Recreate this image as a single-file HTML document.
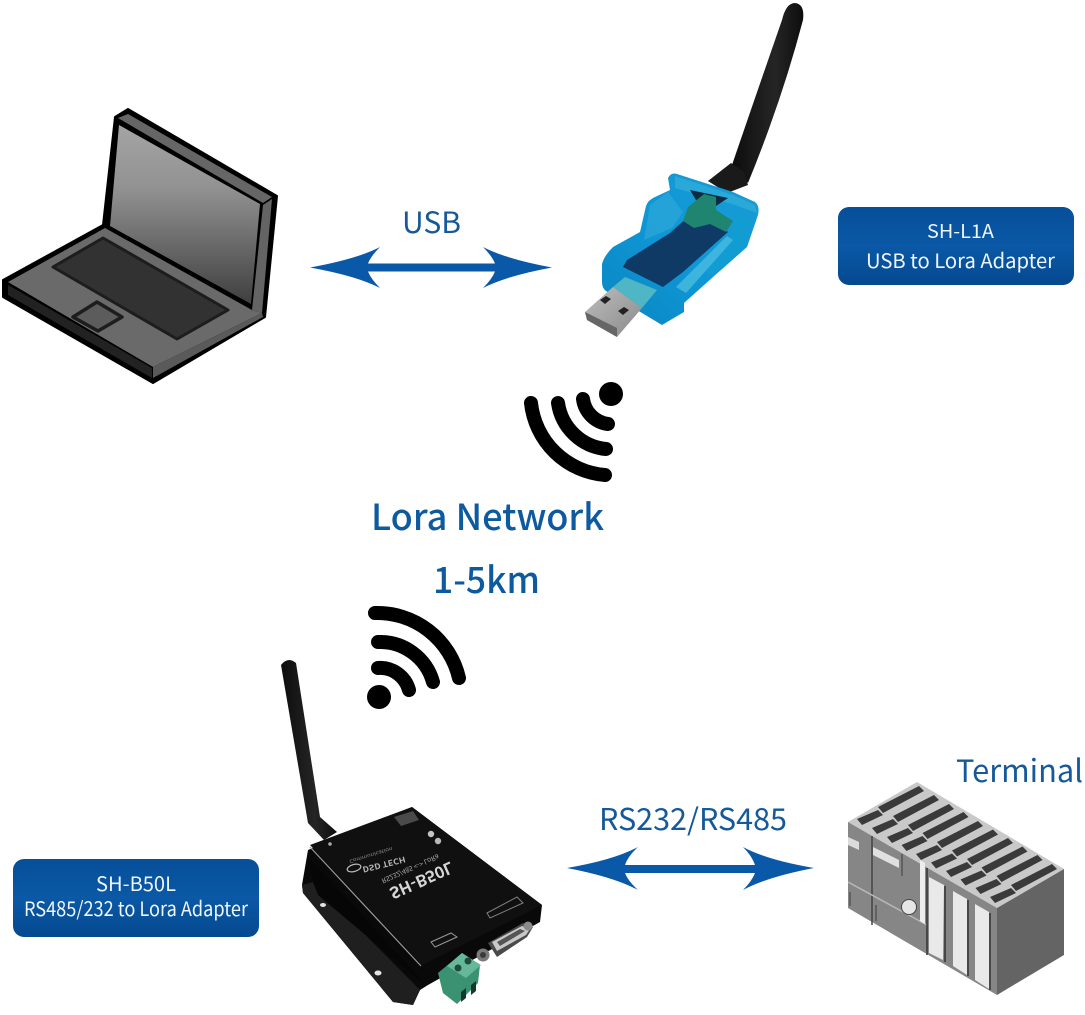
<!DOCTYPE html>
<html lang="en">
<head>
<meta charset="utf-8">
<title>Lora Network Diagram</title>
<style>
html,body{margin:0;padding:0;background:#fff;}
svg{display:block;font-family:"Noto Sans CJK SC","Liberation Sans",sans-serif;}
</style>
</head>
<body>
<svg xmlns="http://www.w3.org/2000/svg" width="1085" height="1015" viewBox="0 0 1085 1015">
<defs>
<linearGradient id="scr" x1="0" y1="0" x2="0" y2="1"><stop offset="0" stop-color="#a4a4a4"/><stop offset="0.35" stop-color="#929292"/><stop offset="1" stop-color="#3f3f3f"/></linearGradient>
<linearGradient id="box" x1="0" y1="0" x2="0" y2="1"><stop offset="0" stop-color="#064f99"/><stop offset="0.5" stop-color="#0a58a6"/><stop offset="1" stop-color="#05498f"/></linearGradient>
<linearGradient id="blue" x1="0" y1="1" x2="1" y2="0"><stop offset="0" stop-color="#0a86c2"/><stop offset="0.5" stop-color="#0f97d6"/><stop offset="1" stop-color="#1a9cd4"/></linearGradient>
<linearGradient id="ant" x1="0" y1="0" x2="1" y2="0"><stop offset="0" stop-color="#0d0d0d"/><stop offset="0.6" stop-color="#252525"/><stop offset="1" stop-color="#0d0d0d"/></linearGradient>
<linearGradient id="metal" x1="0" y1="0" x2="1" y2="1"><stop offset="0" stop-color="#bdbdbd"/><stop offset="1" stop-color="#8a8a8a"/></linearGradient>
</defs>

<!-- Laptop -->
<polygon points="3,280 103,225 115,117 128,109 277,196 265,317 153,383 3,297" fill="#000" stroke="#000" stroke-width="2" stroke-linejoin="round"/>
<polygon points="118,118 128,114 272,197 263,203" fill="#666"/>
<polygon points="263,205 272,199 262,313 252,310" fill="#646464"/>
<polygon points="119,125 260,204 251,304 110,226" fill="url(#scr)"/>
<polygon points="8,282 105,228 252,310 262,313 153,367" fill="#6a6a6a"/>
<polygon points="153,367 262,313 263,317 153,378" fill="#5a5a5a"/>
<polygon points="8,285 152,368 152,378 8,295" fill="#222"/>
<polygon points="53,267 103,238 228,310 177,339" fill="#323232" stroke="#1d1d1d" stroke-width="3" stroke-linejoin="round"/>
<polygon points="73,317 97,302 122,317 98,331" fill="#5c5c5c" stroke="#1d1d1d" stroke-width="3.5" stroke-linejoin="round"/>

<!-- USB adapter -->
<path d="M782,20 Q786,3 795,3 Q805,4 803,20 Q782,100 748,183 L732,165 Q757,92 782,20 Z" fill="url(#ant)"/>
<path d="M708,181 L731,163 L744,172 L748,185 L727,193 Z" fill="#1a1a1a"/>
<path d="M668,178 Q671,172 677,174 L733,192 L755,202 Q760,206 758,215 L747,247 L713,277 L684,303 L684,312 L662,325 L642,313 L606,291 Q602,288 602,282 L602,264 Q604,256 613,247 L640,232 L646,206 Q648,200 655,197 L670,190 Z" fill="url(#blue)"/>
<polygon points="675,176 733,195 755,205 757,213 735,205 675,188" fill="#2aa8d8"/>
<polygon points="650,205 668,192 683,212 672,228 644,240" fill="#28a4d8" opacity="0.85"/>
<polygon points="690,215 670,233 627,260 623,267 663,287 683,272 728,232 712,218" fill="#103a66"/>
<polygon points="690,190 728,198 716,206 696,200" fill="#0d2b3f"/>
<path d="M683,221 L688,207 L704,194 L716,197 L716,210 L733,221 L726,232 L710,224 L694,228 Z" fill="#1f8571"/>
<polygon points="736,215 752,218 744,248 712,276 704,270 728,245" fill="#129dd2"/>
<polygon points="676,287 727,236 733,240 686,293" fill="#49bde0" opacity="0.8"/>
<polygon points="613,287 625,277 657,290 642,308" fill="#4fb6c6"/>
<polygon points="585,312 613,287 642,308 617,337 587,320" fill="url(#metal)"/>
<polygon points="585,312 617,328 617,337 587,320" fill="#666"/>
<polygon points="600,300 606,296 611,299 605,304" fill="#222"/>
<polygon points="618,311 624,307 629,310 623,315" fill="#222"/>

<!-- Arrows -->
<path d="M310,267.5 Q357,259 380,247 Q371,256 368,263.5 L495,263.5 Q492,256 483,247 Q506,259 552,267.5 Q506,276 483,288 Q492,279 495,271.5 L368,271.5 Q371,279 380,288 Q357,276 310,267.5 Z" fill="#0a59a8"/>
<path d="M567,868 Q614,860 638,847 Q628,856 625,865 L755,865 Q752,856 743,847 Q767,860 814,868 Q767,877 743,890 Q752,881 755,873 L625,873 Q628,881 638,890 Q614,877 567,868 Z" fill="#0a59a8"/>

<!-- Labels -->
<text x="402" y="233" font-size="29" fill="#16599a" textLength="59" lengthAdjust="spacingAndGlyphs">USB</text>
<text x="371" y="530" font-size="36" font-weight="500" fill="#0d5a9f" textLength="233" lengthAdjust="spacingAndGlyphs">Lora Network</text>
<text x="433" y="593" font-size="36" font-weight="500" fill="#0d5a9f" textLength="107" lengthAdjust="spacingAndGlyphs">1-5km</text>
<text x="599" y="830" font-size="30" fill="#16599a" textLength="188" lengthAdjust="spacingAndGlyphs">RS232/RS485</text>
<text x="956" y="782" font-size="31" fill="#16599a" textLength="127" lengthAdjust="spacingAndGlyphs">Terminal</text>

<!-- Info boxes -->
<rect x="838" y="207" width="236" height="78" rx="11" fill="url(#box)"/>
<text x="927" y="238" font-size="19" fill="#eef6fc" textLength="67" lengthAdjust="spacingAndGlyphs">SH-L1A</text>
<text x="866" y="268" font-size="20" fill="#eef6fc" textLength="189" lengthAdjust="spacingAndGlyphs">USB to Lora Adapter</text>
<rect x="13" y="859" width="246" height="78" rx="11" fill="url(#box)"/>
<text x="96" y="891" font-size="20" fill="#eef6fc" textLength="80" lengthAdjust="spacingAndGlyphs">SH-B50L</text>
<text x="24" y="916" font-size="20" fill="#eef6fc" textLength="224" lengthAdjust="spacingAndGlyphs">RS485/232 to Lora Adapter</text>

<!-- WiFi top -->
<circle cx="611" cy="394" r="12" fill="#000"/>
<g fill="none" stroke="#000" stroke-width="14" stroke-linecap="round">
<path d="M583,399 A29,29 0 0 0 608,424"/>
<path d="M558,403 A54,54 0 0 0 606,449"/>
<path d="M531,403 A81,81 0 0 0 605,475"/>
</g>
<!-- WiFi bottom -->
<circle cx="379" cy="697" r="12" fill="#000"/>
<g fill="none" stroke="#000" stroke-width="14" stroke-linecap="round">
<path d="M378,668 A30,30 0 0 1 409,690"/>
<path d="M378,642 A55,55 0 0 1 433,682"/>
<path d="M375,613 A84,84 0 0 1 459,678"/>
</g>

<!-- Router -->
<path d="M281,665 Q288,656 296,663 L320,817 L337,832 L324,840 L308,823 Z" fill="url(#ant)"/>
<polygon points="308,850 302,885 303,893 393,1002 413,1005 420,990 428,985 540,922 542,905 412,807" fill="#090909"/>
<polygon points="302,885 313,882 420,990 413,1005 393,1002 303,893" fill="#1f1f1f"/>
<polygon points="308,857 422,980 425,985 318,895 313,882" fill="#060606"/>
<ellipse cx="323" cy="905" rx="3" ry="2" fill="#e4e4e4"/>
<ellipse cx="378" cy="973" rx="3.5" ry="2.5" fill="#e4e4e4"/>
<polygon points="310,845 412,807 542,905 422,965" fill="#101010"/>
<line x1="310" y1="847" x2="421" y2="966" stroke="#9a9a9a" stroke-width="1.2"/>
<polygon points="394,817 413,811 419,820 401,826" fill="#4a4a4a"/>
<circle cx="431" cy="834" r="3.2" fill="#c4c4c4"/>
<circle cx="438" cy="841" r="3.2" fill="#b8b8b8"/>
<circle cx="330" cy="844" r="1.8" fill="#aaa"/>
<text transform="translate(388,889) rotate(-24) scale(1,-1)" font-size="16" font-weight="700" fill="#d6d6d6" textLength="68" lengthAdjust="spacingAndGlyphs">SH-B50L</text>
<text transform="translate(381,879) rotate(-24) scale(1,-1)" font-size="7" fill="#a8a8a8" textLength="62" lengthAdjust="spacingAndGlyphs">RS232/485 &lt;-&gt; LoRa</text>
<text transform="translate(362,867) rotate(-14) scale(1,-1)" font-size="8" font-weight="700" fill="#b4b4b4" textLength="44" lengthAdjust="spacingAndGlyphs">DSD TECH</text>
<ellipse cx="354" cy="868" rx="7" ry="3.5" transform="rotate(-15 354 868)" fill="none" stroke="#bbb" stroke-width="1.2"/>
<text transform="translate(349,860) rotate(-17) scale(1,-1)" font-size="5" fill="#888" textLength="45" lengthAdjust="spacingAndGlyphs">Communication</text>
<polygon points="487,913 517,897 523,903 490,918" fill="none" stroke="#808080" stroke-width="1"/>
<polygon points="431,942 451,933 457,937 435,947" fill="none" stroke="#999" stroke-width="1"/>
<polygon points="488,943 523,923 533,927 527,937 497,957" fill="#4a4a4a"/>
<polygon points="492,942 522,926 530,929 526,935 497,951" fill="#c8c8c8"/>
<polygon points="497,942 520,929 525,931 500,946" fill="#555"/>
<circle cx="483" cy="955" r="6.5" fill="#7a7a7a"/>
<circle cx="483" cy="955" r="3" fill="#3a3a3a"/>
<circle cx="528" cy="926" r="4.5" fill="#8a8a8a"/>
<polygon points="438,973 462,953 480,965 478,983 457,1004 443,993" fill="#3a9272"/>
<polygon points="447,966 462,953 481,965 466,978" fill="#66b89b"/>
<circle cx="458" cy="968" r="3.5" fill="#1f4a3c"/>
<circle cx="468" cy="961" r="3.5" fill="#1f4a3c"/>
<polygon points="461,992 466,988 466,998 461,1002" fill="#15382c"/>
<polygon points="471,985 476,981 476,991 471,995" fill="#15382c"/>

<!-- PLC -->
<polygon points="848,822 917,782 1064,869 997,908" fill="#c9c9c9"/>
<polygon points="997,908 1064,869 1064,955 997,995" fill="#646464"/>
<polygon points="848,822 997,908 997,995 848,908" fill="#868686"/>
<g fill="#3a3a3a">
<g id="slot"><polygon points="878,807 919,786 924,791 883,813"/><polygon points="857,819 878,810 883,815 862,825"/></g>
<use href="#slot" x="15" y="9"/><use href="#slot" x="30" y="18"/><use href="#slot" x="44.5" y="26"/><use href="#slot" x="59" y="35"/><use href="#slot" x="74" y="43.5"/><use href="#slot" x="89" y="52"/><use href="#slot" x="103.5" y="60.5"/><use href="#slot" x="118.5" y="69"/><use href="#slot" x="133" y="78"/>
</g>
<polygon points="848,837 859,842 859,850 848,845" fill="#dcdcdc"/>
<polygon points="873,847 899,860 899,868 873,855" fill="#e0e0e0"/>
<line x1="872" y1="836" x2="872" y2="925" stroke="#444" stroke-width="1.5"/>
<line x1="902" y1="854" x2="902" y2="876" stroke="#555" stroke-width="1.5"/>
<line x1="848" y1="882" x2="927" y2="925" stroke="#b8b8b8" stroke-width="1.5"/>
<line x1="850" y1="892" x2="850" y2="906" stroke="#555" stroke-width="1.5"/>
<line x1="876" y1="905" x2="876" y2="921" stroke="#555" stroke-width="1.5"/>
<polygon points="920,860 925,863 925,924 920,921" fill="#ededed"/>
<line x1="927" y1="868" x2="927" y2="955" stroke="#333" stroke-width="1.5"/>
<polygon points="929,877 944,885 943,960 929,953" fill="#e9e9e9"/>
<polygon points="953,891 967,899 967,975 953,966" fill="#e9e9e9"/>
<polygon points="975,904 989,912 989,989 975,980" fill="#e9e9e9"/>
<line x1="945" y1="886" x2="945" y2="962" stroke="#333" stroke-width="1.5"/>
<line x1="968" y1="900" x2="968" y2="976" stroke="#333" stroke-width="1.5"/>
<line x1="990" y1="913" x2="990" y2="990" stroke="#333" stroke-width="1.5"/>
<circle cx="909" cy="907" r="7.5" fill="#e6e6e6" stroke="#444" stroke-width="1"/>
</svg>
</body>
</html>
